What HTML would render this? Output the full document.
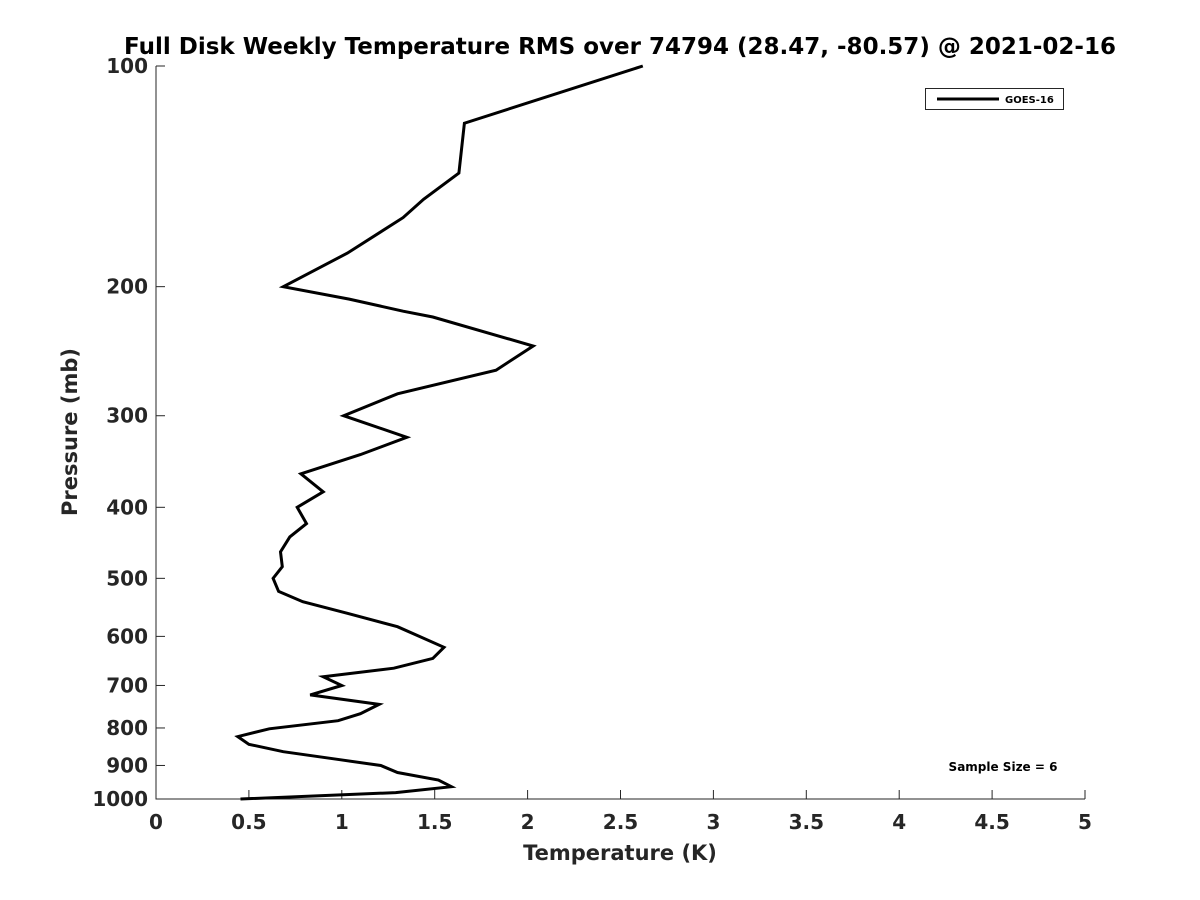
<!DOCTYPE html>
<html><head><meta charset="utf-8"><style>
body{margin:0;background:#fff;}
svg{display:block;font-family:"DejaVu Sans","Liberation Sans",sans-serif;}
</style></head><body>
<svg id="chart" width="1200" height="900" xmlns="http://www.w3.org/2000/svg">
<rect width="1200" height="900" fill="#fff"/>
<text x="620" y="54" text-anchor="middle" font-size="23" font-weight="bold" fill="#000">Full Disk Weekly Temperature RMS over 74794 (28.47, -80.57) @ 2021-02-16</text>
<g id="axes"></g>
<text x="620" y="860" text-anchor="middle" font-size="21" font-weight="bold" fill="#262626">Temperature (K)</text>
<text transform="translate(77,432) rotate(-90)" text-anchor="middle" font-size="21" font-weight="bold" fill="#262626">Pressure (mb)</text>
<g>
<rect x="925.5" y="88.5" width="138" height="21" fill="#fff" stroke="#262626" stroke-width="1"/>
<line x1="937" y1="99" x2="999" y2="99" stroke="#000" stroke-width="3"/>
<text x="1005" y="103" font-size="10" font-weight="bold" fill="#000">GOES-16</text>
</g>
<text x="1003" y="771" text-anchor="middle" font-size="12" font-weight="bold" fill="#000">Sample Size = 6</text>
</svg>
<script>
const temps = [2.62,1.66,1.63,1.44,1.33,1.03,0.685,1.04,1.33,1.49,2.03,1.83,1.30,1.01,1.35,1.10,0.78,0.90,0.76,0.81,0.72,0.67,0.68,0.63,0.66,0.79,1.03,1.30,1.55,1.49,1.28,0.90,1.00,0.83,1.20,1.10,0.98,0.61,0.44,0.50,0.685,0.99,1.21,1.30,1.52,1.59,1.29,0.455];
const pressures = [100,119.7,140,152,161,180,200,208,216,220,241,260,280,300,321,339,360,381,400,421,439,460,482,500,521,538,558,582,621,643,663,681,700,721,743,765,782,802,822,842,862,884,900,920,942,962,980,1000];
const xTicks = [0,0.5,1,1.5,2,2.5,3,3.5,4,4.5,5];
const yTicks = [100,200,300,400,500,600,700,800,900,1000];
const X0=156,X1=1085,Y0=66,Y1=799;
const xScale=v=>X0+(v-0)/(5-0)*(X1-X0);
const yScale=p=>Y0+Math.log10(p/100)*(Y1-Y0);
const NS="http://www.w3.org/2000/svg";
const g=document.getElementById('axes');
function mk(tag,attrs){const e=document.createElementNS(NS,tag);for(const k in attrs)e.setAttribute(k,attrs[k]);g.appendChild(e);return e;}
let ax=mk('path',{d:`M${X0},${Y0} V${Y1} H${X1}`,fill:'none',stroke:'#262626','stroke-width':1});


xTicks.forEach(t=>{
 const x=xScale(t);
 let l=mk('line',{x1:x,x2:x,y1:Y1,y2:Y1-9,stroke:'#262626','stroke-width':1});
 
 
 let tx=mk('text',{x:x,y:Y1+30,'text-anchor':'middle','font-size':20,'font-weight':'bold',fill:'#262626'});
 tx.textContent=String(t);
 
 
});
yTicks.forEach(t=>{
 const y=yScale(t);
 let l=mk('line',{x1:X0,x2:X0+9,y1:y,y2:y,stroke:'#262626','stroke-width':1});
 
 
 let tx=mk('text',{x:X0-8,y:y+7,'text-anchor':'end','font-size':20,'font-weight':'bold',fill:'#262626'});
 tx.textContent=String(t);
 
 
});
const pts=temps.map((v,i)=>xScale(v).toFixed(1)+','+yScale(pressures[i]).toFixed(1)).join(' ');
let line=mk('polyline',{points:pts,fill:'none',stroke:'#000','stroke-width':3,'stroke-linejoin':'miter'});


</script>
</body></html>
